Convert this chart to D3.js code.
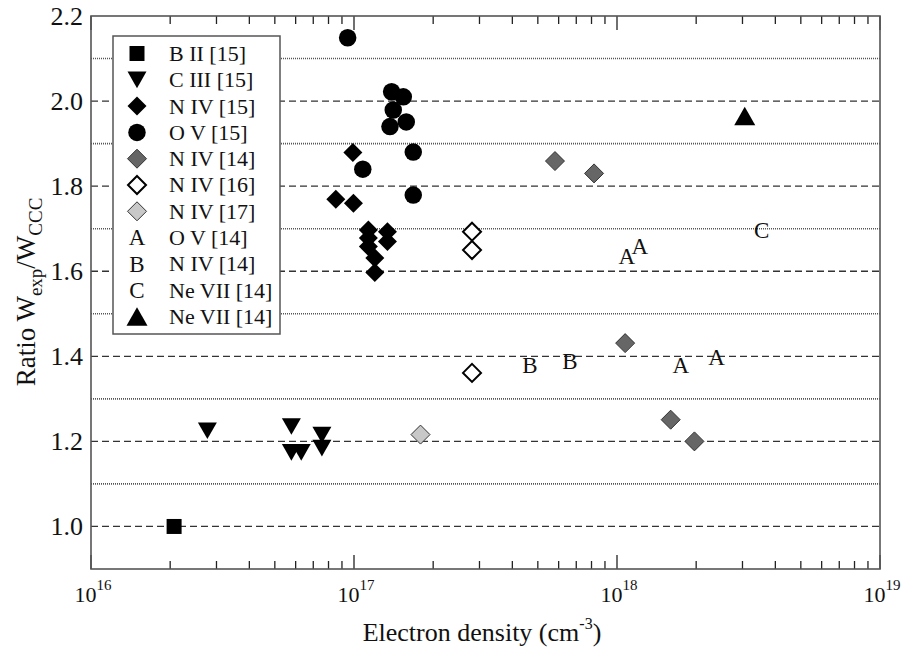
<!DOCTYPE html>
<html>
<head>
<meta charset="utf-8">
<script src="https://cdn.jsdelivr.net/npm/d3@7"></script>
<style>
  body { margin: 0; background: #fff; }
  svg text { font-family: "Liberation Serif", "DejaVu Serif", serif; }
</style>
</head>
<body>
<svg id="chart" width="901" height="651"></svg>
<script>
// ratio W_exp / W_CCC against electron density, one array per series
const bII15 = [[2.07e16, 1.0]];
const cIII15 = [[2.77e16, 1.225], [5.78e16, 1.235], [5.78e16, 1.174], [6.3e16, 1.174], [7.55e16, 1.215], [7.55e16, 1.184]];
const nIV15 = [[9.9e16, 1.879], [8.53e16, 1.769], [9.95e16, 1.760], [1.134e17, 1.697], [1.134e17, 1.678], [1.134e17, 1.658],
  [1.34e17, 1.693], [1.34e17, 1.670], [1.20e17, 1.631], [1.20e17, 1.597]];
const oV15 = [[9.46e16, 2.149], [1.39e17, 2.022], [1.54e17, 2.010], [1.41e17, 1.979], [1.37e17, 1.940], [1.58e17, 1.951],
  [1.68e17, 1.880], [1.08e17, 1.840], [1.68e17, 1.779]];
const nIV14 = [[5.81e17, 1.859], [8.18e17, 1.830], [1.074e18, 1.431], [1.60e18, 1.251], [1.97e18, 1.200]];
const nIV16 = [[2.81e17, 1.693], [2.81e17, 1.650], [2.81e17, 1.361]];
const nIV17 = [[1.79e17, 1.216]];
const oV14 = [[1.09e18, 1.636], [1.22e18, 1.658], [1.75e18, 1.380], [2.39e18, 1.398]];
const nIV14b = [[4.67e17, 1.380], [6.62e17, 1.388]];
const neVII14c = [[3.55e18, 1.697]];
const neVII14 = [[3.06e18, 1.965]];

const legendLabels = ["B II [15]", "C III [15]", "N IV [15]", "O V [15]", "N IV [14]", "N IV [16]", "N IV [17]",
  "O V [14]", "N IV [14]", "Ne VII [14]", "Ne VII [14]"];
const yTicks = [1.0, 1.2, 1.4, 1.6, 1.8, 2.0, 2.2];
const yMinor = [1.1, 1.3, 1.5, 1.7, 1.9, 2.1];
const xDecades = [16, 17, 18, 19];

const FONT = '"Liberation Serif", "Times New Roman", "DejaVu Serif", serif';

// marker shapes, centred on their box
const shapes = {
  square: s => `M${-s/2},${-s/2}h${s}v${s}h${-s}Z`,
  down: s => `M${-s/2},${-s*0.44}L${s/2},${-s*0.44}L0,${s*0.44}Z`,
  up: s => `M${-s/2},${s*0.44}L${s/2},${s*0.44}L0,${-s*0.44}Z`,
  diamond: s => `M0,${-s/2}L${s/2},0L0,${s/2}L${-s/2},0Z`,
  circle: s => `M${s/2},0A${s/2},${s/2} 0 1,1 ${-s/2},0A${s/2},${s/2} 0 1,1 ${s/2},0Z`
};

const series = [
  {data: bII15, shape: "square", size: 15, fill: "#000", stroke: "none"},
  {data: cIII15, shape: "down", size: 19, fill: "#000", stroke: "none"},
  {data: nIV15, shape: "diamond", size: 19, fill: "#000", stroke: "none"},
  {data: oV15, shape: "circle", size: 17.5, fill: "#000", stroke: "none"},
  {data: nIV14, shape: "diamond", size: 19, fill: "#666", stroke: "#333"},
  {data: nIV16, shape: "diamond", size: 18, fill: "#fff", stroke: "#000", sw: 2},
  {data: nIV17, shape: "diamond", size: 19, fill: "#c8c8c8", stroke: "#333"},
  {data: oV14, letter: "A"},
  {data: nIV14b, letter: "B"},
  {data: neVII14c, letter: "C"},
  {data: neVII14, shape: "up", size: 21, fill: "#000", stroke: "none"}
];

const svg = d3.select("#chart");
const pL = 91, pR = 880, pT = 16, pB = 569;

const x = d3.scaleLog().domain([1e16, 1e19]).range([pL, pR]);
const y = d3.scaleLinear().domain([0.9, 2.2]).range([pB, pT]);

// grid: dashed on majors, dotted on minors
svg.append("g").selectAll("line").data(yTicks.filter(v => v < 2.2)).join("line")
  .attr("x1", pL).attr("x2", pR).attr("y1", d => y(d)).attr("y2", d => y(d))
  .attr("stroke", "#333").attr("stroke-width", 1.3).attr("stroke-dasharray", "7,4");
svg.append("g").selectAll("line").data(yMinor).join("line")
  .attr("x1", pL).attr("x2", pR).attr("y1", d => y(d)).attr("y2", d => y(d))
  .attr("stroke", "#555").attr("stroke-width", 1.6).attr("stroke-dasharray", "1,1");

// log ticks, inward, on bottom and top
const xMinor = [];
xDecades.slice(0, -1).forEach(e => { for (let k = 2; k <= 9; k++) xMinor.push(k * Math.pow(10, e)); });
const xMajor = xDecades.map(e => Math.pow(10, e));
const tk = svg.append("g").attr("stroke", "#222").attr("stroke-width", 1.3);
[[pB, -1], [pT, 1]].forEach(([yy, dir]) => {
  tk.append("g").selectAll("line").data(xMinor).join("line")
    .attr("x1", d => x(d)).attr("x2", d => x(d)).attr("y1", yy).attr("y2", yy + dir * 8);
  tk.append("g").selectAll("line").data(xMajor).join("line")
    .attr("x1", d => x(d)).attr("x2", d => x(d)).attr("y1", yy).attr("y2", yy + dir * 14);
});

// frame
svg.append("rect").attr("x", pL).attr("y", pT).attr("width", pR - pL).attr("height", pB - pT)
  .attr("fill", "none").attr("stroke", "#555").attr("stroke-width", 1.6);

// y tick labels
svg.append("g").selectAll("text").data(yTicks).join("text")
  .attr("font-family", FONT)
  .attr("x", pL - 8).attr("y", d => y(d)).attr("dy", "0.34em")
  .attr("text-anchor", "end").attr("font-size", 26).attr("fill", "#111")
  .text(d => d.toFixed(1));

// x tick labels 10^n
const xl = svg.append("g").selectAll("text").data(xDecades).join("text")
  .attr("font-family", FONT)
  .attr("x", d => x(Math.pow(10, d)) + 2).attr("y", 602)
  .attr("text-anchor", "middle").attr("font-size", 22).attr("fill", "#111");
xl.append("tspan").text("10");
xl.append("tspan").attr("dy", -12).attr("font-size", 15).text(d => d);

// axis titles
const xt = svg.append("text").attr("font-family", FONT).attr("x", 482).attr("y", 641).attr("text-anchor", "middle")
  .attr("font-size", 26).attr("fill", "#111");
xt.append("tspan").text("Electron density (cm");
xt.append("tspan").attr("dy", -12).attr("font-size", 16).text("-3");
xt.append("tspan").attr("dy", 12).text(")");

const yt = svg.append("text").attr("font-family", FONT).attr("transform", "translate(35,292) rotate(-90)")
  .attr("text-anchor", "middle").attr("font-size", 27).attr("fill", "#111");
yt.append("tspan").text("Ratio W");
yt.append("tspan").attr("dy", 7).attr("font-size", 19).text("exp");
yt.append("tspan").attr("dy", -7).text("/W");
yt.append("tspan").attr("dy", 7).attr("font-size", 19).text("CCC");

// data marks
const plot = svg.append("g");
function drawMark(g, s) {
  if (s.letter) {
    g.append("text").attr("font-family", FONT).attr("text-anchor", "middle").attr("dy", "0.34em")
      .attr("font-size", 23).attr("fill", "#111").text(s.letter);
  } else {
    g.append("path").attr("d", shapes[s.shape](s.size))
      .attr("fill", s.fill).attr("stroke", s.stroke).attr("stroke-width", s.sw || 1);
  }
}
series.forEach(s => {
  plot.append("g").selectAll("g").data(s.data).join("g")
    .attr("transform", d => `translate(${x(d[0])},${y(d[1])})`)
    .each(function() { drawMark(d3.select(this), s); });
});

// legend
const lg = svg.append("g");
lg.append("rect").attr("x", 113).attr("y", 36).attr("width", 167).attr("height", 298)
  .attr("fill", "#fff").attr("stroke", "#555").attr("stroke-width", 1.5);
series.forEach((s, i) => {
  const row = lg.append("g").attr("transform", `translate(137,${53.5 + i * 26.3})`);
  drawMark(row, s);
  lg.append("text").attr("font-family", FONT).attr("x", 169).attr("y", 53.5 + i * 26.3).attr("dy", "0.34em")
    .attr("font-size", 22).attr("fill", "#111").text(legendLabels[i]);
});
</script>
</body>
</html>
